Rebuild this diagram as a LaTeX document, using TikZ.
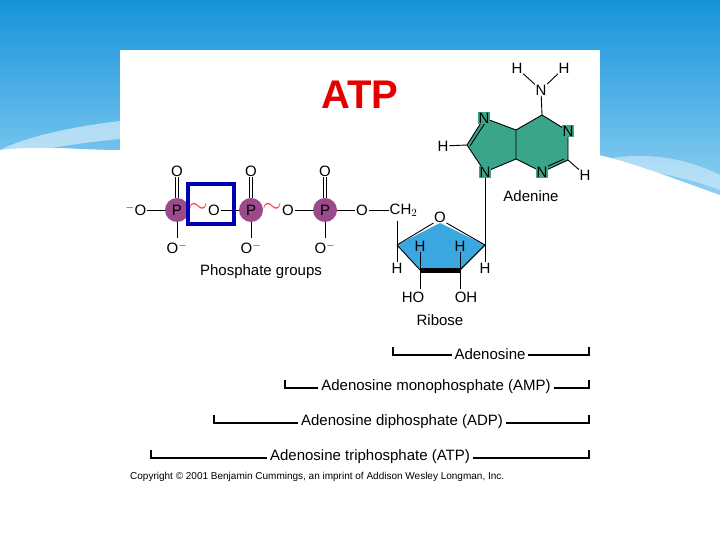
\documentclass[tikz,border=0pt]{standalone}
\usepackage{fontspec}
\setmainfont{Liberation Sans}
\begin{document}
\begin{tikzpicture}[x=1pt,y=-1pt,
  lbl/.style={font=\fontsize{15}{15}\selectfont,inner sep=0.5pt},
  bond/.style={line width=0.9pt},
  pcirc/.style={circle,fill=pur,minimum size=24pt,inner sep=0pt,font=\fontsize{15}{15}\selectfont},
  brk/.style={line width=1.2pt},
  blbl/.style={font=\fontsize{15}{15}\selectfont,fill=white,inner sep=3pt}]
\definecolor{pur}{HTML}{9B4A8C}
\definecolor{grn}{HTML}{3AA58A}
\definecolor{rib}{HTML}{3BA7E0}
\definecolor{sky}{HTML}{1593DB}
\definecolor{skyl}{HTML}{8FD0F2}
\useasboundingbox (0,0) rectangle (720,540);
\fill[white] (0,0) rectangle (720,540);
% background band
\shade[top color=sky,bottom color=skyl] (0,0) -- (720,0) -- (720,195) .. controls (650,170) and (600,150) .. (560,150) -- (120,150) .. controls (80,150) and (40,145) .. (0,150) -- cycle;
\fill[white,opacity=0.5] (0,150) .. controls (60,120) and (200,110) .. (300,115) -- (300,130) .. controls (200,130) and (60,140) .. (0,160) -- cycle;
\fill[white,opacity=0.4] (600,160) .. controls (650,150) and (690,160) .. (720,175) -- (720,190) .. controls (680,175) and (640,168) .. (600,170) -- cycle;
\fill[white] (120,50) rectangle (600,490);
\node[font=\bfseries\fontsize{40}{42}\selectfont,text=red!90!black] (title) at (360,95) {ATP};
% phosphates
\node[lbl] (om) at (136,210) {$^{-}$O};
\node[pcirc] (p1) at (177,210) {P};
\node[pcirc] (p2) at (251,210) {P};
\node[pcirc] (p3) at (325,210) {P};
\node[lbl] (o1) at (214,210) {O};
\node[lbl] (o2) at (288,210) {O};
\node[lbl] (o3) at (362,210) {O};
\node[lbl,anchor=west] (ch2) at (389,210) {CH$_2$};
\foreach \i/\x in {1/177,2/251,3/325}{
  \node[lbl] (ot\i) at (\x,171) {O};
  \node[lbl] (ob\i) at (\x,248) {O$^{-}$};
  \draw[bond] ([xshift=-1.5pt]ot\i.south) -- ([xshift=-1.5pt]p\i.north);
  \draw[bond] ([xshift=1.5pt]ot\i.south) -- ([xshift=1.5pt]p\i.north);
  \draw[bond] (p\i.south) -- (\x,238);
}
\draw[bond] (om) -- (p1);
\draw[bond] (o1) -- (p2);
\draw[bond] (o2) -- (p3);
\draw[bond] (p3) -- (o3);
\draw[bond] (o3) -- (ch2);
\node[text=red!70!pink,font=\fontsize{24}{24}\selectfont] (t1) at (198,208) {$\sim$};
\node[text=red!70!pink,font=\fontsize{24}{24}\selectfont] (t2) at (272,208) {$\sim$};
\draw[line width=4.5pt,draw=blue!70!black] (188,184) rectangle (234,224);
\node[lbl] (pg) at (261,272) {Phosphate groups};
% ribose
\coordinate (c4) at (397,245);
\coordinate (c3) at (420,270);
\coordinate (c2) at (460,270);
\coordinate (c1) at (485,245);
\node[lbl] (ro) at (440,217) {O};
\fill[rib] (c4) -- (ro.south) -- (c1) -- (c2) -- (c3) -- cycle;
\draw[bond] (c4) -- (ro.south west) (ro.south east) -- (c1) -- (c2);
\draw[bond] (c3) -- (c4);
\draw[line width=5pt,line join=round] (c3) -- (c2);
\draw[bond] (c1) -- (c2);
\draw[bond] (397,221) -- (c4);
\node[lbl] (h4) at (397,268) {H};
\node[lbl] (h1) at (485,268) {H};
\node[lbl] (h3) at (420,246) {H};
\node[lbl] (h2) at (460,246) {H};
\draw[bond] (c4) -- (h4) (c1) -- (h1) (c3) -- (h3) (c2) -- (h2);
\node[lbl] (ho) at (413,297) {HO};
\node[lbl] (oh) at (466,297) {OH};
\draw[bond] (c3) -- (420,289) (c2) -- (460,289);
\node[lbl] (ribl) at (440,320) {Ribose};
% adenine
\coordinate (a6) at (542,115);
\coordinate (a1) at (568,131);
\coordinate (a2) at (568,160);
\coordinate (a3) at (542,172);
\coordinate (a4) at (516,159);
\coordinate (a5) at (516,130);
\coordinate (a7) at (484,118);
\coordinate (a8) at (467,145);
\coordinate (a9) at (485,172);
\fill[grn] (a6) -- (a1) -- (a2) -- (a3) -- (a4) -- (a9) -- (a8) -- (a7) -- (a5) -- cycle;
\draw[bond] (a6) -- (a1) -- (a2) -- (a3) -- (a4) -- (a9) -- (a8) -- (a7) -- (a5) -- cycle (a5) -- (a4);
\draw[bond] (a8)++(3,1) -- ++(15,-23);
\draw[bond] (a2)++(-4,-1) -- ++(-20,9);
\node[lbl,fill=grn] (n7) at (484,118) {N};
\node[lbl,fill=grn] (n1) at (568,131) {N};
\node[lbl,fill=grn] (n3) at (542,172) {N};
\node[lbl,fill=grn] (n9) at (485,172) {N};
\node[lbl] (na) at (541,90) {N};
\node[lbl] (ha1) at (517,68) {H};
\node[lbl] (ha2) at (564,68) {H};
\draw[bond] (na) -- (a6) (na) -- (ha1) (na) -- (ha2);
\node[lbl] (h8) at (443,146) {H};
\draw[bond] (h8) -- (a8);
\node[lbl] (hc2) at (585,175) {H};
\draw[bond] (a2) -- (hc2);
\draw[bond] (n9) -- (c1);
\node[lbl] (adl) at (531,196) {Adenine};
% brackets
\foreach \n/\xa/\y in {ad/393/355,amp/285/388,adp/214/423,atp/151/458}{
  \coordinate (\n l) at (\xa,\y);
  \coordinate (\n r) at (589,\y);
  \draw[brk] ([yshift=8pt]\n l) -- (\n l) -- (\n r) -- ([yshift=8pt]\n r);
}
\node[blbl] (tad) at (490,354) {Adenosine};
\node[blbl] (tamp) at (436,387) {Adenosine monophosphate (AMP)};
\node[blbl] (tadp) at (402,422) {Adenosine diphosphate (ADP)};
\node[blbl] (tatp) at (370,457) {Adenosine triphosphate (ATP)};
\node[anchor=west,font=\fontsize{10}{10}\selectfont,inner sep=0] (copy) at (130,477) {Copyright \textcopyright\ 2001 Benjamin Cummings, an imprint of Addison Wesley Longman, Inc.};
\end{tikzpicture}
\end{document}
